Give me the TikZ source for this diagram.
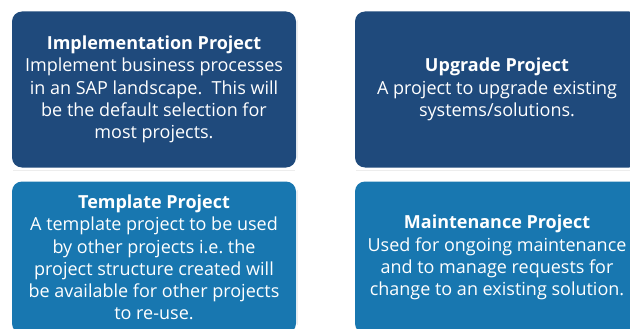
\documentclass[tikz,border=0pt]{standalone}
\usepackage{fontspec}
\setmainfont{Open Sans}
\begin{document}
\frenchspacing
\begin{tikzpicture}[x=1pt,y=1pt,
  card/.style={rounded corners=10pt, minimum width=284pt, align=center,
    text=white, inner sep=0pt, font=\fontsize{18}{22.3}\selectfont},
  darkcard/.style={card, fill=cardDark, minimum height=156pt},
  lightcard/.style={card, fill=cardLight, minimum height=152pt},
  glow/.style={draw=black!7, line width=1pt, rounded corners=10pt}]
\definecolor{cardDark}{HTML}{1F4A7C}
\definecolor{cardLight}{HTML}{1877B0}
\useasboundingbox (0,0) rectangle (630,-329);
\fill[white] (0,0) rectangle (630,-329);
% faint outlines behind the cards
\draw[glow] (13,-170.5) -- (295,-170.5);
\draw[glow] (356,-170.5) -- (640,-170.5);
\draw[glow] (297.5,-20) -- (297.5,-160);
\draw[glow] (297.5,-190) -- (297.5,-325);
% cards
\node[darkcard] (impl) at (154,-89.5)
  {\textbf{Implementation Project}\\Implement business processes\\in an SAP landscape.\ \ This will\\be the default selection for\\most projects.};
\node[darkcard] (upg) at (497,-89.5)
  {\textbf{Upgrade Project}\\A project to upgrade existing\\systems/solutions.};
\node[lightcard] (tmpl) at (154,-257.5)
  {\textbf{Template Project}\\A template project to be used\\by other projects i.e. the\\project structure created will\\be available for other projects\\to re-use.};
\node[lightcard] (maint) at (497,-257.5)
  {\textbf{Maintenance Project}\\Used for ongoing maintenance\\and to manage requests for\\change to an existing solution.};
\end{tikzpicture}
\end{document}
